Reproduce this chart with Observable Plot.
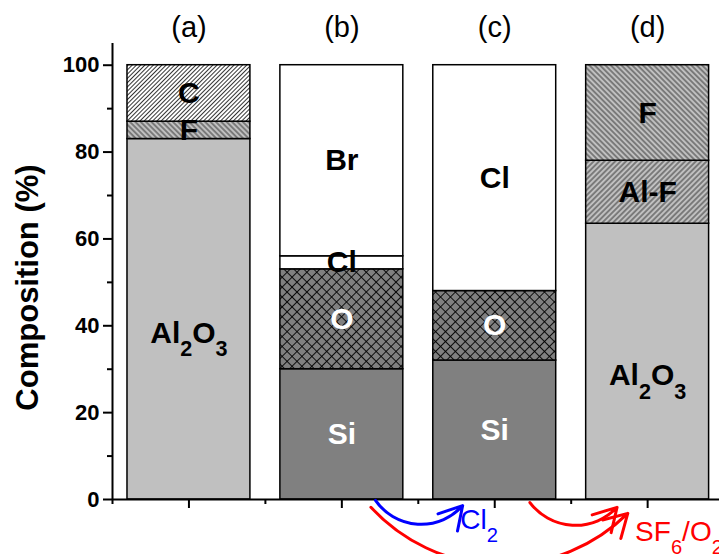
<!DOCTYPE html>
<html><head><meta charset="utf-8">
<script src="https://cdn.jsdelivr.net/npm/d3@7"></script>
<script src="https://cdn.jsdelivr.net/npm/@observablehq/plot@0.6"></script>
<style>
body{margin:0;background:#fff;}
#chart svg{display:block;}
</style>
</head><body><div id="chart"></div>
<script>
// ---- data ----
const panels = ["(a)", "(b)", "(c)", "(d)"];
const panelPos = [1, 2, 3, 4];
const layersA = ["Al_2O_3", "F", "C"];      const valuesA = [83, 4, 13];
const layersB = ["Si", "O", "Cl", "Br"];    const valuesB = [30, 23, 3, 44];
const layersC = ["Si", "O", "Cl"];          const valuesC = [32, 16, 52];
const layersD = ["Al_2O_3", "Al-F", "F"];   const valuesD = [63.5, 14.5, 22];
const yMajor = [0, 20, 40, 60, 80, 100];
const yMinor = [10, 30, 50, 70, 90];
const xMajor = [1, 2, 3, 4];
const xMinor = [0.5, 1.5, 2.5, 3.5, 4.5];
const yLabel = "Composition (%)";
// process arrows (x in panel units, y in %)
const arrowX1 = [2.22, 3.23, 2.19];
const arrowY1 = [-0.2, -0.7, -1.8];
const arrowX2 = [2.79, 3.80, 3.87];
const arrowY2 = [-1.4, -1.8, -3.2];
const arrowBend = [-52, -50, -46];
const gasText = ["Cl_2", "SF_6/O_2"];
const gasX = [2.775, 3.918];
const gasY = [-4.8, -7.6];

// ---- styles ----
const arrowColor = ["#0000ff", "#ff0000", "#ff0000"];
const gasColor = ["#0000ff", "#ff0000"];
const fillOf = {
  "Al_2O_3": "#c0c0c0", "F": "url(#hBackG)", "C": "url(#hFwdW)", "Si": "#808080",
  "O": "url(#crossD)", "Cl": "#ffffff", "Br": "#ffffff", "Al-F": "url(#hFwdG)"
};
const textColorOf = {"Si": "#ffffff", "O": "#ffffff"};

// ---- table ----
const groups = [[layersA, valuesA], [layersB, valuesB], [layersC, valuesC], [layersD, valuesD]];
const segments = [];
groups.forEach(([layers, vals], i) => {
  let acc = 0;
  layers.forEach((l, j) => {
    segments.push({pos: panelPos[i], layer: l, y1: acc, y2: acc + vals[j]});
    acc += vals[j];
  });
});
const arrows = arrowX1.map((_, i) => ({x1: arrowX1[i], y1: arrowY1[i], x2: arrowX2[i], y2: arrowY2[i], bend: arrowBend[i], color: arrowColor[i]}));
const gases = gasText.map((t, i) => ({t, x: gasX[i], y: gasY[i], color: gasColor[i]}));
const half = 0.402;

const font = "'Liberation Sans', Arial, sans-serif";
const plot = Plot.plot({
  width: 719, height: 554,
  marginLeft: 112, marginRight: 0, marginTop: 43, marginBottom: 55,
  x: {domain: [0.5, 4.47], axis: null},
  y: {domain: [0, 105], axis: null},
  color: {type: "identity"},
  style: {fontFamily: font, background: "white", color: "black"},
  marks: [
    Plot.rectY(segments, {x1: d => d.pos - half, x2: d => d.pos + half, y1: "y1", y2: "y2",
      fill: d => fillOf[d.layer], stroke: "black", strokeWidth: 1.5}),
    Plot.text(segments.filter(d => d.layer !== "Al_2O_3"), {x: "pos", y: d => (d.y1 + d.y2) / 2, text: "layer",
      fill: d => textColorOf[d.layer] || "black", fontSize: 30, fontWeight: "bold"}),
    Plot.text(segments.filter(d => d.layer === "Al_2O_3"), {x: "pos", y: d => (d.y1 + d.y2) / 2, text: "layer",
      fill: "black", fontSize: 30, fontWeight: "bold", dy: 14}),
    Plot.ruleX([0.5], {y1: 0, y2: 105, strokeWidth: 2}),
    Plot.ruleY([0], {x1: 0.5, x2: 4.47, strokeWidth: 2}),
    Plot.axisY(yMajor, {tickSize: 9, tickPadding: 4, fontSize: 22, fontWeight: "bold", strokeWidth: 2}),
    Plot.axisY(yMinor, {tickSize: 5, tickFormat: () => "", strokeWidth: 2}),
    Plot.axisX(xMajor, {tickSize: 9, tickFormat: () => "", strokeWidth: 2}),
    Plot.axisX(xMinor, {tickSize: 5, tickFormat: () => "", strokeWidth: 2}),
    Plot.text(panels, {x: panelPos, text: d => d, frameAnchor: "top", lineAnchor: "middle", dy: -16, fontSize: 29}),
    Plot.text([yLabel], {frameAnchor: "left", textAnchor: "middle", lineAnchor: "middle", dx: -84, dy: 16, rotate: -90, fontSize: 31, fontWeight: "bold"}),
    ...arrows.map(a => Plot.arrow([a], {x1: "x1", y1: "y1", x2: "x2", y2: "y2", bend: a.bend,
      stroke: a.color, strokeWidth: 3, headLength: 13})),
    Plot.text(gases, {x: "x", y: "y", text: "t", fill: "color", fontSize: 28, textAnchor: "start"})
  ]
});
document.getElementById("chart").appendChild(plot);

// patterns
const svg = d3.select(plot);
const defs = svg.insert("defs", ":first-child");
function hatch(id, bg, angle, s, w) {
  const p = defs.append("pattern").attr("id", id).attr("patternUnits", "userSpaceOnUse")
    .attr("width", s).attr("height", s).attr("patternTransform", `rotate(${angle})`);
  p.append("rect").attr("width", s).attr("height", s).attr("fill", bg);
  p.append("line").attr("x1", s / 2).attr("x2", s / 2).attr("y1", 0).attr("y2", s)
    .attr("stroke", "black").attr("stroke-width", w);
}
hatch("hFwdW", "#ffffff", 45, 3, 0.8);
hatch("hBackG", "#c0c0c0", -45, 3.8, 0.7);
hatch("hFwdG", "#c0c0c0", 45, 3.8, 0.7);
{
  const s = 7;
  const p = defs.append("pattern").attr("id", "crossD").attr("patternUnits", "userSpaceOnUse")
    .attr("width", s).attr("height", s).attr("patternTransform", "rotate(45)");
  p.append("rect").attr("width", s).attr("height", s).attr("fill", "#808080");
  p.append("line").attr("x1", s / 2).attr("x2", s / 2).attr("y1", 0).attr("y2", s).attr("stroke", "black").attr("stroke-width", 0.9);
  p.append("line").attr("y1", s / 2).attr("y2", s / 2).attr("x1", 0).attr("x2", s).attr("stroke", "black").attr("stroke-width", 0.9);
}

// subscripts
const NS = "http://www.w3.org/2000/svg";
plot.querySelectorAll("text").forEach(el => {
  const t = el.textContent;
  if (!t.includes("_")) return;
  const fs = parseFloat(getComputedStyle(el).fontSize) || 30;
  const parts = [];
  let buf = "";
  for (let k = 0; k < t.length; k++) {
    if (t[k] === "_") { if (buf) parts.push({s: buf, sub: false}); buf = ""; parts.push({s: t[k + 1], sub: true}); k++; }
    else buf += t[k];
  }
  if (buf) parts.push({s: buf, sub: false});
  el.textContent = "";
  const shift = fs * 0.45;
  let cur = 0;
  parts.forEach(p => {
    const ts = document.createElementNS(NS, "tspan");
    ts.textContent = p.s;
    const target = p.sub ? shift : 0;
    if (target !== cur) { ts.setAttribute("dy", target - cur); cur = target; }
    if (p.sub) ts.setAttribute("font-size", fs * 0.72);
    el.appendChild(ts);
  });
});
</script>
</body></html>
